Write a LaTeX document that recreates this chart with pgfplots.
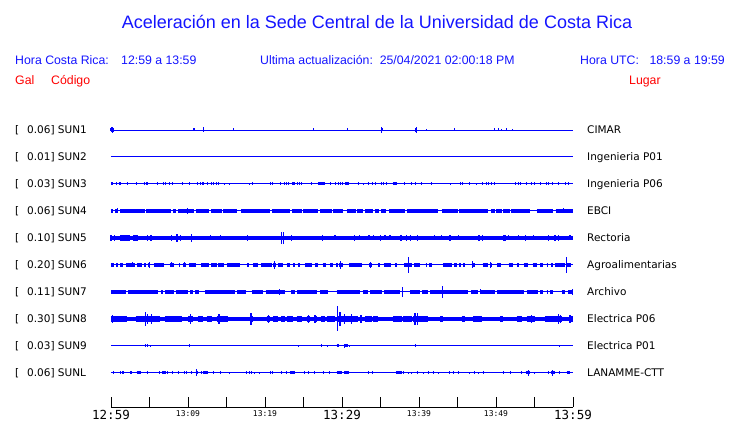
\documentclass[border=0pt]{standalone}
\usepackage{pgfplots}
\pgfplotsset{compat=1.18}
\usepackage{fontspec}
\setmainfont{Liberation Sans}
\newfontfamily\dejavu{DejaVu Sans}
\newfontfamily\mono{DejaVu Sans Mono}
\definecolor{tblue}{RGB}{0,0,255}
\definecolor{hblue}{RGB}{20,20,255}
\definecolor{hred}{RGB}{255,0,0}
\newcommand\bigtick{\mono\fontsize{12.5}{14}\selectfont}
\newcommand\smtick{\mono\fontsize{8}{9}\selectfont}
\pgfplotsset{
  trace/.style={tblue, line width=#1, mark=none, unbounded coords=jump, forget plot},
  spikes/.style={draw=none, mark=none, forget plot,
    error bars/.cd, y dir=both, y explicit, error mark=none,
    error bar style={draw=tblue, line width=#1}},
}
\begin{document}
\begin{tikzpicture}
\begin{axis}[
  scale only axis,
  width=462pt, height=292pt,
  xmin=0, xmax=60, ymin=-407, ymax=-115,
  axis x line=bottom, axis y line=none, axis line style={-, black, line width=0.8pt},
  ytick=\empty,
  xtick={0,5,...,60}, tick align=inside, major tick length=10pt,
  tick style={black, line width=0.8pt},
  xticklabels={{\bigtick 12:59},{},{\smtick 13:09},{},{\smtick 13:19},{},{\bigtick 13:29},{},{\smtick 13:39},{},{\smtick 13:49},{},{\bigtick 13:59}},
  xticklabel style={anchor=north, inner sep=0pt, yshift=-3pt},
  clip=false,
]
\coordinate (O) at (axis cs:-14.4156,-423);
% ---------- SUN1 ----------
\addplot[trace=0.9pt] coordinates {(0,-130) (60,-130)};
\addplot[spikes=1pt] table[x=t,y=y,y error=e] {
t y e
0.0 -130 1.5
0.1 -130 2.5
0.17 -130 3
0.3 -130 2
10.7 -130 1.5
10.78 -130 1.5
12.0 -130 2.5
15.9 -130 1.5
26.3 -130 1.5
30.7 -130 1.5
35.1 -130 3
35.2 -130 1.5
39.6 -130 2
39.7 -130 3
41.0 -130 1
44.6 -130 1.5
49.8 -130 1.5
50.3 -130 1.5
50.7 -130 1
51.3 -130 1.5
52.1 -130 1
};
% ---------- SUN2 ----------
\addplot[trace=1pt] coordinates {(0,-157) (60,-157)};
% ---------- SUN3 ----------
\addplot[trace=1pt] coordinates {(0,-184) (60,-184)};
\addplot[trace=3pt] coordinates {(0,-184) (0.3,-184) (nan,nan) (1.0,-184) (1.35,-184) (nan,nan) (4.55,-184) (4.8,-184) (nan,nan) (11.85,-184) (12.05,-184) (nan,nan) (23.55,-184) (23.9,-184) (nan,nan) (26.93,-184) (27.8,-184) (nan,nan) (30.39,-184) (30.95,-184) (nan,nan) (36.6,-184) (37.1,-184)};
\addplot[spikes=1pt] table[x=t,y=y,y error=e] {
t y e
0.09 -184 1.5
0.65 -184 1.5
1.17 -184 1.5
2.12 -184 1.5
3.29 -184 1.5
4.37 -184 1.5
4.68 -184 1.5
6.06 -184 1.5
6.84 -184 1.5
7.14 -184 1.5
7.66 -184 1.5
7.97 -184 1.5
9.31 -184 1.5
10.22 -184 1.5
11.17 -184 1.5
11.56 -184 1.5
11.95 -184 1.5
12.51 -184 1.5
12.99 -184 1.5
13.33 -184 1.5
13.72 -184 1.5
13.98 -184 1.5
14.72 -184 1
15.37 -184 1
17.97 -184 1
18.44 -184 1.5
20.74 -184 1.5
21.0 -184 1.5
22.03 -184 1.5
22.51 -184 1.5
22.73 -184 1.5
23.03 -184 1.5
23.72 -184 1.5
24.16 -184 1.5
24.5 -184 1.5
24.8 -184 1.5
26.06 -184 1.5
27.36 -184 1.5
28.48 -184 1.5
29.18 -184 1.5
29.52 -184 1.5
29.87 -184 1.5
30.09 -184 1.5
30.65 -184 1.5
32.12 -184 1.5
32.77 -184 1
33.38 -184 1.5
33.98 -184 1.5
34.37 -184 1.5
35.15 -184 1.5
35.45 -184 1.5
35.8 -184 1.5
36.84 -184 1.5
38.18 -184 1.5
39.09 -184 1.5
39.57 -184 1.5
40.35 -184 1.5
41.56 -184 1.5
44.07 -184 1
45.37 -184 1.5
45.63 -184 1.5
46.62 -184 1.5
47.45 -184 1
48.27 -184 1.5
48.79 -184 1.5
49.0 -184 1.5
49.44 -184 1.5
49.78 -184 1.5
52.47 -184 1.5
52.9 -184 1.5
53.16 -184 1.5
53.94 -184 1.5
54.59 -184 1.5
55.02 -184 1.5
55.84 -184 1.5
56.54 -184 1.5
56.88 -184 1.5
57.36 -184 1.5
58.14 -184 1.5
59.0 -184 1.5
59.39 -184 1.5
};
% ---------- SUN4 ----------
\addplot[trace=1pt] coordinates {(0,-211) (60,-211)};
\addplot[trace=3.2pt] coordinates {(0,-211) (0.26,-211) (nan,nan) (0.52,-211) (0.82,-211) (nan,nan) (1.17,-211) (4.42,-211) (nan,nan) (4.59,-211) (7.84,-211) (nan,nan) (8.01,-211) (8.44,-211) (nan,nan) (8.74,-211) (10.82,-211) (nan,nan) (11.0,-211) (12.77,-211) (nan,nan) (12.99,-211) (14.37,-211) (nan,nan) (14.59,-211) (16.41,-211) (nan,nan) (16.88,-211) (20.61,-211) (nan,nan) (20.87,-211) (23.25,-211) (nan,nan) (23.46,-211) (24.76,-211) (nan,nan) (24.94,-211) (26.93,-211) (nan,nan) (27.1,-211) (28.66,-211) (nan,nan) (28.83,-211) (30.17,-211) (nan,nan) (30.69,-211) (31.77,-211) (nan,nan) (31.95,-211) (32.68,-211) (nan,nan) (33.03,-211) (34.07,-211) (nan,nan) (34.24,-211) (34.81,-211) (nan,nan) (35.06,-211) (35.71,-211) (nan,nan) (36.1,-211) (38.18,-211) (nan,nan) (38.4,-211) (42.51,-211) (nan,nan) (42.94,-211) (45.02,-211) (nan,nan) (45.19,-211) (49.0,-211) (nan,nan) (49.35,-211) (49.87,-211) (nan,nan) (50.04,-211) (50.74,-211) (nan,nan) (50.95,-211) (51.82,-211) (nan,nan) (51.99,-211) (54.42,-211) (nan,nan) (55.32,-211) (57.45,-211) (nan,nan) (57.75,-211) (60,-211)};
\addplot[spikes=1pt] table[x=t,y=y,y error=e] {
t y e
0.1 -211 2
0.78 -211 2.5
9.96 -211 3
36.32 -211 2
58.74 -211 2.5
};
% ---------- SUN5 ----------
\addplot[trace=4pt] coordinates {(0,-238) (60,-238)};
\addplot[trace=6pt] coordinates {(1.17,-238) (2.47,-238) (nan,nan) (2.9,-238) (3.46,-238)};
\addplot[spikes=1.3pt] table[x=t,y=y,y error=e] {
t y e
0 -238 3
0.43 -238 3
4.72 -238 3
5.19 -238 3
7.88 -238 3
8.57 -238 4
9.0 -238 3
10.48 -238 4
12.9 -238 2.5
14.2 -238 2.5
17.71 -238 3
22.16 -238 6
22.42 -238 6
23.46 -238 3
27.49 -238 3
29.09 -238 2.5
31.65 -238 3
32.29 -238 2.5
33.51 -238 2.5
34.07 -238 2.5
35.02 -238 3
35.58 -238 2.5
36.23 -238 2.5
37.66 -238 3
38.4 -238 3
38.92 -238 3
39.78 -238 3
41.99 -238 2.5
42.94 -238 2.5
44.03 -238 3
45.11 -238 2.5
47.79 -238 3
48.27 -238 3
50.95 -238 3
51.17 -238 3
51.6 -238 2.5
52.9 -238 2.5
53.85 -238 3
54.85 -238 2.5
56.8 -238 3
57.66 -238 3
58.1 -238 3
59.61 -238 2.5
};
% ---------- SUN6 ----------
\addplot[trace=1pt] coordinates {(0,-265) (60,-265)};
\addplot[trace=3.5pt] coordinates {(0,-265) (0.43,-265) (nan,nan) (0.65,-265) (0.95,-265) (nan,nan) (1.17,-265) (1.6,-265) (nan,nan) (1.9,-265) (3.12,-265) (nan,nan) (3.33,-265) (3.98,-265) (nan,nan) (4.33,-265) (4.5,-265) (nan,nan) (4.76,-265) (5.06,-265) (nan,nan) (5.58,-265) (6.93,-265) (nan,nan) (7.66,-265) (8.18,-265) (nan,nan) (8.83,-265) (9.0,-265) (nan,nan) (9.39,-265) (9.74,-265) (nan,nan) (10.13,-265) (11.0,-265) (nan,nan) (11.69,-265) (12.73,-265) (nan,nan) (12.99,-265) (13.72,-265) (nan,nan) (13.94,-265) (14.68,-265) (nan,nan) (15.02,-265) (16.75,-265) (nan,nan) (17.71,-265) (17.92,-265) (nan,nan) (18.48,-265) (19.05,-265) (nan,nan) (19.48,-265) (20.87,-265) (nan,nan) (21.08,-265) (21.39,-265) (nan,nan) (21.65,-265) (22.38,-265) (nan,nan) (22.81,-265) (23.25,-265) (nan,nan) (23.68,-265) (23.94,-265) (nan,nan) (24.24,-265) (24.55,-265) (nan,nan) (25.19,-265) (26.15,-265) (nan,nan) (26.54,-265) (26.93,-265) (nan,nan) (27.49,-265) (27.92,-265) (nan,nan) (28.48,-265) (28.83,-265) (nan,nan) (29.26,-265) (29.52,-265) (nan,nan) (29.65,-265) (30.09,-265) (nan,nan) (30.91,-265) (32.55,-265) (nan,nan) (33.55,-265) (33.85,-265) (nan,nan) (34.72,-265) (34.94,-265) (nan,nan) (35.41,-265) (36.36,-265) (nan,nan) (36.88,-265) (37.1,-265) (nan,nan) (38.05,-265) (39.05,-265) (nan,nan) (39.39,-265) (40.13,-265) (nan,nan) (40.87,-265) (41.08,-265) (nan,nan) (41.3,-265) (41.65,-265) (nan,nan) (43.16,-265) (44.24,-265) (nan,nan) (44.55,-265) (44.89,-265) (nan,nan) (45.19,-265) (45.45,-265) (nan,nan) (45.76,-265) (45.97,-265) (nan,nan) (46.84,-265) (47.27,-265) (nan,nan) (48.27,-265) (48.92,-265) (nan,nan) (49.22,-265) (49.52,-265) (nan,nan) (50.17,-265) (50.61,-265) (nan,nan) (51.65,-265) (52.25,-265) (nan,nan) (52.77,-265) (52.99,-265) (nan,nan) (53.59,-265) (54.11,-265) (nan,nan) (54.76,-265) (55.37,-265) (nan,nan) (55.71,-265) (56.15,-265) (nan,nan) (56.58,-265) (56.8,-265) (nan,nan) (57.1,-265) (57.36,-265) (nan,nan) (57.66,-265) (58.96,-265) (nan,nan) (59.05,-265) (59.74,-265)};
\addplot[spikes=1pt] table[x=t,y=y,y error=e] {
t y e
2.77 -265 2.5
4.94 -265 3
7.88 -265 2.5
9.52 -265 2.5
13.94 -265 2
21.26 -265 4
29.87 -265 4
33.72 -265 3
38.61 -265 8
46.97 -265 3.5
49.35 -265 3
59.18 -265 8
};
% ---------- SUN7 ----------
\addplot[trace=1pt] coordinates {(0,-292) (60,-292)};
\addplot[trace=3.5pt] coordinates {(0,-292) (1.9,-292) (nan,nan) (2.25,-292) (6.15,-292) (nan,nan) (6.49,-292) (6.8,-292) (nan,nan) (7.01,-292) (8.23,-292) (nan,nan) (8.44,-292) (10.04,-292) (nan,nan) (10.3,-292) (10.65,-292) (nan,nan) (10.91,-292) (11.43,-292) (nan,nan) (12.21,-292) (16.1,-292) (nan,nan) (16.41,-292) (17.49,-292) (nan,nan) (18.27,-292) (19.78,-292) (nan,nan) (20.09,-292) (22.6,-292) (nan,nan) (23.38,-292) (23.9,-292) (nan,nan) (24.2,-292) (26.71,-292) (nan,nan) (27.14,-292) (28.14,-292) (nan,nan) (29.31,-292) (32.34,-292) (nan,nan) (32.68,-292) (33.42,-292) (nan,nan) (33.64,-292) (35.15,-292) (nan,nan) (35.5,-292) (37.53,-292) (nan,nan) (38.83,-292) (40.13,-292) (nan,nan) (40.35,-292) (41.21,-292) (nan,nan) (41.43,-292) (46.41,-292) (nan,nan) (46.75,-292) (47.62,-292) (nan,nan) (47.88,-292) (49.87,-292) (nan,nan) (50.09,-292) (53.68,-292) (nan,nan) (53.98,-292) (55.5,-292) (nan,nan) (55.71,-292) (56.15,-292) (nan,nan) (56.58,-292) (56.8,-292) (nan,nan) (57.01,-292) (57.45,-292) (nan,nan) (58.53,-292) (58.96,-292) (nan,nan) (59.39,-292) (60,-292)};
\addplot[spikes=1pt] table[x=t,y=y,y error=e] {
t y e
21.82 -292 3
26.41 -292 2
32.99 -292 2
37.88 -292 5
43.03 -292 6
48.0 -292 2.5
51.17 -292 2
59.9 -292 3
};
% ---------- SUN8 ----------
\addplot[trace=4.5pt] coordinates {(0,-319) (60,-319)};
\addplot[trace=6.5pt] coordinates {(0,-319) (2.03,-319) (nan,nan) (3.2,-319) (6.36,-319) (nan,nan) (7.01,-319) (9.18,-319) (nan,nan) (10.04,-319) (10.69,-319) (nan,nan) (11.34,-319) (11.99,-319) (nan,nan) (12.42,-319) (13.07,-319) (nan,nan) (13.72,-319) (15.24,-319) (nan,nan) (18.05,-319) (18.48,-319) (nan,nan) (20.22,-319) (20.65,-319) (nan,nan) (21.08,-319) (21.73,-319) (nan,nan) (22.08,-319) (22.6,-319) (nan,nan) (22.81,-319) (23.68,-319) (nan,nan) (24.11,-319) (24.76,-319) (nan,nan) (25.41,-319) (25.84,-319) (nan,nan) (26.41,-319) (26.71,-319) (nan,nan) (27.27,-319) (27.79,-319) (nan,nan) (28.01,-319) (29.09,-319) (nan,nan) (29.52,-319) (32.12,-319) (nan,nan) (32.34,-319) (32.55,-319) (nan,nan) (32.99,-319) (33.85,-319) (nan,nan) (34.07,-319) (34.72,-319) (nan,nan) (36.67,-319) (37.75,-319) (nan,nan) (37.97,-319) (39.05,-319) (nan,nan) (39.26,-319) (41.21,-319) (nan,nan) (42.73,-319) (43.16,-319) (nan,nan) (45.54,-319) (45.97,-319) (nan,nan) (47.06,-319) (48.14,-319) (nan,nan) (50.52,-319) (50.95,-319) (nan,nan) (52.68,-319) (53.33,-319) (nan,nan) (53.98,-319) (55.06,-319) (nan,nan) (56.36,-319) (58.53,-319) (nan,nan) (59.61,-319) (60,-319)};
\addplot[spikes=1.3pt] table[x=t,y=y,y error=e] {
t y e
0.17 -319 4
4.5 -319 7
4.72 -319 5
5.28 -319 5
10.35 -319 5
14.03 -319 5
18.18 -319 6
20.43 -319 4
25.63 -319 4
26.49 -319 4
29.39 -319 12.5
29.74 -319 7
30.3 -319 5
31.26 -319 5
32.47 -319 4
39.48 -319 6
39.83 -319 6
54.63 -319 4
58.1 -319 5
58.4 -319 4
59.61 -319 4
};
% ---------- SUN9 ----------
\addplot[trace=1pt] coordinates {(0,-346) (60,-346)};
\addplot[trace=3pt] coordinates {(29.3,-346) (29.6,-346) (nan,nan) (30.3,-346) (30.8,-346)};
\addplot[spikes=1pt] table[x=t,y=y,y error=e] {
t y e
4.42 -346 1.5
4.72 -346 1.5
5.19 -346 1
10.22 -346 1.5
24.33 -346 1
27.36 -346 1.5
28.1 -346 1
29.39 -346 1.5
30.39 -346 2
30.91 -346 1
39.57 -346 1.5
58.31 -346 1
};
% ---------- SUNL ----------
\addplot[trace=1pt] coordinates {(0,-373) (60,-373)};
\addplot[trace=3pt] coordinates {(1.47,-373) (1.73,-373) (nan,nan) (2.47,-373) (2.77,-373) (nan,nan) (3.33,-373) (3.85,-373) (nan,nan) (6.67,-373) (7.1,-373) (nan,nan) (11.0,-373) (11.26,-373) (nan,nan) (11.99,-373) (12.64,-373) (nan,nan) (23.25,-373) (23.9,-373) (nan,nan) (29.31,-373) (30.04,-373) (nan,nan) (30.3,-373) (30.91,-373) (nan,nan) (37.01,-373) (37.75,-373) (nan,nan) (53.85,-373) (54.42,-373) (nan,nan) (57.14,-373) (57.66,-373) (nan,nan) (59.18,-373) (59.61,-373)};
\addplot[spikes=1pt] table[x=t,y=y,y error=e] {
t y e
0.3 -373 1.5
1.26 -373 1.5
1.6 -373 1.5
2.6 -373 1.5
3.55 -373 1.5
4.76 -373 1.5
6.36 -373 1.5
6.8 -373 1.5
7.36 -373 1.5
8.05 -373 1.5
8.74 -373 1.5
9.57 -373 1.5
9.83 -373 1.5
10.48 -373 1.5
11.13 -373 3.5
11.69 -373 1.5
12.08 -373 1.5
12.42 -373 1.5
13.29 -373 1.5
14.16 -373 1.5
15.45 -373 1
17.62 -373 1.5
18.05 -373 1.5
18.27 -373 1.5
18.61 -373 1
19.35 -373 1
20.65 -373 1.5
21.0 -373 1.5
22.16 -373 1.5
22.81 -373 1.5
23.25 -373 1.5
23.68 -373 1.5
25.19 -373 1.5
25.63 -373 1.5
26.49 -373 1.5
27.58 -373 1.5
28.44 -373 1.5
29.52 -373 1.5
29.87 -373 1.5
30.61 -373 1.5
33.42 -373 1.5
33.98 -373 1.5
37.1 -373 1.5
37.53 -373 1.5
38.05 -373 1.5
38.61 -373 1
39.05 -373 1
39.78 -373 1.5
40.56 -373 1
41.21 -373 1.5
41.86 -373 1.5
42.51 -373 1
43.9 -373 1.5
44.46 -373 1.5
45.19 -373 1.5
46.62 -373 1
47.19 -373 1.5
47.71 -373 1
48.35 -373 1.5
50.95 -373 1.5
51.82 -373 1.5
53.25 -373 1.5
53.98 -373 1.5
54.2 -373 3
55.06 -373 1
56.8 -373 1.5
57.36 -373 3
58.31 -373 1.5
59.39 -373 1.5
};
\end{axis}
\begin{scope}[shift={(O)}, x=1pt, y=1pt]
\path (0,0) rectangle (740,423);
% header
\node[anchor=base, inner sep=0, text=hblue, font=\fontsize{18}{20}\selectfont] at (377,394) {Aceleración en la Sede Central de la Universidad de Costa Rica};
\begin{scope}[every node/.style={inner sep=0, text=hblue, font=\fontsize{12.3}{14}\selectfont}]
\node[anchor=base west] at (15,358.5) {Hora Costa Rica:};
\node[anchor=base west] at (121,358.5) {12:59 a 13:59};
\node[anchor=base west] at (260,358.5) {Ultima actualización:\ \ 25/04/2021 02:00:18 PM};
\node[anchor=base west] at (580,358.5) {Hora UTC:};
\node[anchor=base east] at (725,358.5) {18:59 a 19:59};
\end{scope}
\begin{scope}[every node/.style={inner sep=0, text=hred, font=\fontsize{12.3}{14}\selectfont}]
\node[anchor=base west] at (15,338.5) {Gal};
\node[anchor=base west] at (51,338.5) {Código};
\node[anchor=base west] at (629,338.5) {Lugar};
\end{scope}
% row labels
\begin{scope}[every node/.style={inner sep=0, font=\dejavu\fontsize{10.5}{12}\selectfont}]
\foreach \yy/\g/\c/\l in {289/0.06/SUN1/CIMAR, 262/0.01/SUN2/Ingenieria P01, 235/0.03/SUN3/Ingenieria P06, 208/0.06/SUN4/EBCI, 181/0.10/SUN5/Rectoria, 154/0.20/SUN6/Agroalimentarias, 127/0.11/SUN7/Archivo, 100/0.30/SUN8/Electrica P06, 73/0.03/SUN9/Electrica P01, 46/0.06/SUNL/LANAMME-CTT}{
  \node[anchor=base west] at (15,\yy) {[};
  \node[anchor=base west] at (27,\yy) {\g] \c};
  \node[anchor=base west] at (587,\yy) {\l};
}
\end{scope}
\end{scope}
\end{tikzpicture}
\end{document}
